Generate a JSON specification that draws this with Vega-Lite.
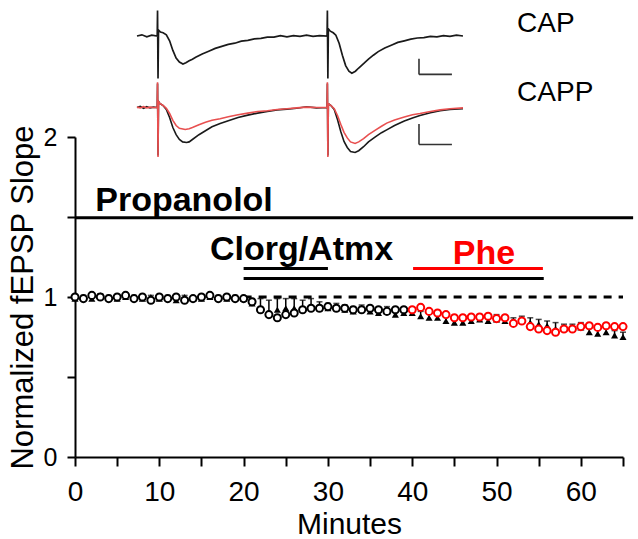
{
  "$schema": "https://vega.github.io/schema/vega-lite/v6.json",
  "width": 548,
  "height": 320,
  "autosize": {"type": "none"},
  "padding": {"left": 75, "top": 137, "right": 15, "bottom": 82},
  "config": {
    "view": {"stroke": null},
    "font": "Liberation Sans",
    "axis": {"grid": false, "domainColor": "black", "tickColor": "black", "labelColor": "black", "titleColor": "black", "labelFont": "Liberation Sans", "titleFont": "Liberation Sans"}
  },
  "datasets": {
    "cap": [
      {"t":0,"v":0.99,"hi":1.0},{"t":1,"v":1.0,"hi":1.01},{"t":2,"v":0.99,"hi":1.0},{"t":3,"v":1.01,"hi":1.02},{"t":4,"v":1.0,"hi":1.01},{"t":5,"v":0.99,"hi":1.0},{"t":6,"v":1.0,"hi":1.01},{"t":7,"v":1.0,"hi":1.01},{"t":8,"v":0.99,"hi":1.0},{"t":9,"v":1.0,"hi":1.01},{"t":10,"v":0.99,"hi":1.0},{"t":11,"v":1.0,"hi":1.01},{"t":12,"v":0.98,"hi":0.99},{"t":13,"v":1.0,"hi":1.01},{"t":14,"v":0.99,"hi":1.0},{"t":15,"v":0.99,"hi":1.0},{"t":16,"v":1.0,"hi":1.01},{"t":17,"v":1.0,"hi":1.01},{"t":18,"v":0.99,"hi":1.0},{"t":19,"v":1.0,"hi":1.01},{"t":20,"v":0.99,"hi":1.0},
      {"t":21,"v":0.96,"hi":0.99},{"t":22,"v":0.92,"hi":0.99},{"t":23,"v":0.9,"hi":0.98},{"t":24,"v":0.92,"hi":0.99},{"t":25,"v":0.93,"hi":0.99},{"t":26,"v":0.93,"hi":0.99},{"t":27,"v":0.93,"hi":0.98},{"t":28,"v":0.94,"hi":0.99},{"t":29,"v":0.93,"hi":0.97},{"t":30,"v":0.93,"hi":0.96},
      {"t":31,"v":0.93,"hi":0.96},{"t":32,"v":0.92,"hi":0.95},{"t":33,"v":0.91,"hi":0.94},{"t":34,"v":0.92,"hi":0.95},{"t":35,"v":0.91,"hi":0.94},{"t":36,"v":0.9,"hi":0.93},{"t":37,"v":0.91,"hi":0.94},{"t":38,"v":0.89,"hi":0.92},{"t":39,"v":0.9,"hi":0.93},{"t":40,"v":0.9,"hi":0.93},
      {"t":41,"v":0.88,"hi":0.91},{"t":42,"v":0.87,"hi":0.9},{"t":43,"v":0.87,"hi":0.9},{"t":44,"v":0.85,"hi":0.88},{"t":45,"v":0.84,"hi":0.87},{"t":46,"v":0.84,"hi":0.87},{"t":47,"v":0.85,"hi":0.88},{"t":48,"v":0.86,"hi":0.89},{"t":49,"v":0.85,"hi":0.88},{"t":50,"v":0.86,"hi":0.89},
      {"t":51,"v":0.85,"hi":0.88},{"t":52,"v":0.84,"hi":0.87},{"t":53,"v":0.85,"hi":0.88},{"t":54,"v":0.84,"hi":0.87},{"t":55,"v":0.83,"hi":0.86},{"t":56,"v":0.82,"hi":0.85},{"t":57,"v":0.8,"hi":0.84},{"t":58,"v":0.8,"hi":0.83},{"t":59,"v":0.8,"hi":0.83},{"t":60,"v":0.81,"hi":0.84},
      {"t":61,"v":0.78,"hi":0.81},{"t":62,"v":0.77,"hi":0.8},{"t":63,"v":0.78,"hi":0.81},{"t":64,"v":0.76,"hi":0.79},{"t":65,"v":0.75,"hi":0.78}
    ],
    "capp": [
      {"t":0,"v":1.0,"ph":"ctrl"},{"t":1,"v":0.99,"ph":"ctrl"},{"t":2,"v":1.01,"ph":"ctrl"},{"t":3,"v":1.0,"ph":"ctrl"},{"t":4,"v":0.99,"ph":"ctrl"},{"t":5,"v":1.0,"ph":"ctrl"},{"t":6,"v":1.01,"ph":"ctrl"},{"t":7,"v":0.99,"ph":"ctrl"},{"t":8,"v":1.0,"ph":"ctrl"},{"t":9,"v":0.98,"ph":"ctrl"},{"t":10,"v":1.0,"ph":"ctrl"},
      {"t":11,"v":0.99,"ph":"ctrl"},{"t":12,"v":1.0,"ph":"ctrl"},{"t":13,"v":0.98,"ph":"ctrl"},{"t":14,"v":0.99,"ph":"ctrl"},{"t":15,"v":1.0,"ph":"ctrl"},{"t":16,"v":1.01,"ph":"ctrl"},{"t":17,"v":0.99,"ph":"ctrl"},{"t":18,"v":1.0,"ph":"ctrl"},{"t":19,"v":0.99,"ph":"ctrl"},{"t":20,"v":0.99,"ph":"ctrl"},
      {"t":21,"v":0.97,"ph":"ctrl"},{"t":22,"v":0.92,"ph":"ctrl"},{"t":23,"v":0.89,"ph":"ctrl"},{"t":24,"v":0.87,"ph":"ctrl"},{"t":25,"v":0.89,"ph":"ctrl"},{"t":26,"v":0.9,"ph":"ctrl"},{"t":27,"v":0.92,"ph":"ctrl"},{"t":28,"v":0.93,"ph":"ctrl"},{"t":29,"v":0.93,"ph":"ctrl"},{"t":30,"v":0.94,"ph":"ctrl"},
      {"t":31,"v":0.93,"ph":"ctrl"},{"t":32,"v":0.93,"ph":"ctrl"},{"t":33,"v":0.92,"ph":"ctrl"},{"t":34,"v":0.92,"ph":"ctrl"},{"t":35,"v":0.93,"ph":"ctrl"},{"t":36,"v":0.92,"ph":"ctrl"},{"t":37,"v":0.91,"ph":"ctrl"},{"t":38,"v":0.92,"ph":"ctrl"},{"t":39,"v":0.92,"ph":"ctrl"},
      {"t":40,"v":0.92,"ph":"phe"},{"t":41,"v":0.935,"ph":"phe"},{"t":42,"v":0.91,"ph":"phe"},{"t":43,"v":0.9,"ph":"phe"},{"t":44,"v":0.89,"ph":"phe"},{"t":45,"v":0.87,"ph":"phe"},{"t":46,"v":0.87,"ph":"phe"},{"t":47,"v":0.875,"ph":"phe"},{"t":48,"v":0.875,"ph":"phe"},{"t":49,"v":0.88,"ph":"phe"},{"t":50,"v":0.865,"ph":"phe"},
      {"t":51,"v":0.87,"ph":"phe"},{"t":52,"v":0.835,"ph":"phe"},{"t":53,"v":0.85,"ph":"phe"},{"t":54,"v":0.815,"ph":"phe"},{"t":55,"v":0.8,"ph":"phe"},{"t":56,"v":0.79,"ph":"phe"},{"t":57,"v":0.78,"ph":"phe"},{"t":58,"v":0.8,"ph":"phe"},{"t":59,"v":0.8,"ph":"phe"},{"t":60,"v":0.815,"ph":"phe"},
      {"t":61,"v":0.82,"ph":"phe"},{"t":62,"v":0.81,"ph":"phe"},{"t":63,"v":0.82,"ph":"phe"},{"t":64,"v":0.815,"ph":"phe"},{"t":65,"v":0.815,"ph":"phe"}
    ],
    "bars": [
      {"name":"Propanolol","t":0,"t2":66.2,"v":1.495,"c":"k"},
      {"name":"Clorg","t":20,"t2":30,"v":1.178,"c":"k"},
      {"name":"Atmx","t":20,"t2":55.6,"v":1.115,"c":"k"},
      {"name":"Phe","t":40.1,"t2":55.5,"v":1.178,"c":"r"}
    ],
    "trCAP": [
      {"t":0,"v":0},{"t":1.5,"v":0.03},{"t":3,"v":-0.02},{"t":4.5,"v":0.02},{"t":6.2,"v":0},{"t":6.3,"v":0.64},{"t":6.45,"v":-1.06},{"t":6.6,"v":0.15},{"t":7.2,"v":0.1},{"t":8,"v":0.08},{"t":9,"v":0.03},{"t":10,"v":-0.12},{"t":11,"v":-0.36},{"t":12,"v":-0.55},{"t":13,"v":-0.65},{"t":14.1,"v":-0.7},{"t":15,"v":-0.67},{"t":16,"v":-0.62},{"t":17,"v":-0.58},{"t":18,"v":-0.53},{"t":20,"v":-0.45},{"t":22,"v":-0.38},{"t":24,"v":-0.31},{"t":26,"v":-0.26},{"t":28,"v":-0.21},{"t":30,"v":-0.18},{"t":32,"v":-0.13},{"t":34,"v":-0.11},{"t":36,"v":-0.07},{"t":38,"v":-0.06},{"t":40,"v":-0.03},{"t":42,"v":-0.03},{"t":44,"v":0.01},{"t":46,"v":-0.02},{"t":48,"v":0.01},{"t":50,"v":-0.01},{"t":52,"v":0.02},{"t":54,"v":-0.01},{"t":56,"v":0.01},
      {"t":58.3,"v":0},{"t":58.4,"v":0.64},{"t":58.55,"v":-1.06},{"t":58.7,"v":0.18},{"t":59.3,"v":0.12},{"t":60.2,"v":0.08},{"t":61,"v":0.02},{"t":62,"v":-0.18},{"t":63,"v":-0.48},{"t":64,"v":-0.74},{"t":65,"v":-0.88},{"t":65.9,"v":-0.93},{"t":67,"v":-0.88},{"t":68,"v":-0.8},{"t":69.5,"v":-0.69},{"t":71,"v":-0.58},{"t":72.5,"v":-0.48},{"t":74,"v":-0.39},{"t":76,"v":-0.3},{"t":78,"v":-0.23},{"t":80,"v":-0.16},{"t":82,"v":-0.12},{"t":84,"v":-0.08},{"t":86,"v":-0.05},{"t":88,"v":-0.04},{"t":90,"v":-0.01},{"t":92,"v":-0.02},{"t":94,"v":0.01},{"t":96,"v":-0.01},{"t":98,"v":0.02},{"t":100,"v":0}
    ],
    "trCAPP": [
      {"s":"black","t":0,"v":0},{"s":"black","t":1,"v":0.03},{"s":"black","t":2,"v":-0.02},{"s":"black","t":3,"v":0.02},{"s":"black","t":4,"v":-0.01},{"s":"black","t":5,"v":0.01},{"s":"black","t":6.2,"v":0},{"s":"black","t":6.3,"v":0.6},{"s":"black","t":6.45,"v":-1.2},{"s":"black","t":6.6,"v":0.15},{"s":"black","t":7,"v":0.1},{"s":"black","t":8,"v":0.05},{"s":"black","t":9,"v":-0.05},{"s":"black","t":10,"v":-0.25},{"s":"black","t":11,"v":-0.5},{"s":"black","t":12,"v":-0.68},{"s":"black","t":13,"v":-0.8},{"s":"black","t":14,"v":-0.86},{"s":"black","t":15.2,"v":-0.875},{"s":"black","t":16,"v":-0.86},{"s":"black","t":17,"v":-0.8},{"s":"black","t":19,"v":-0.68},{"s":"black","t":21,"v":-0.58},{"s":"black","t":23,"v":-0.48},{"s":"black","t":25.5,"v":-0.4},{"s":"black","t":28,"v":-0.33},{"s":"black","t":31,"v":-0.25},{"s":"black","t":34,"v":-0.19},{"s":"black","t":37,"v":-0.14},{"s":"black","t":40,"v":-0.1},{"s":"black","t":43,"v":-0.06},{"s":"black","t":46,"v":-0.04},{"s":"black","t":49,"v":-0.02},{"s":"black","t":52,"v":0.02},{"s":"black","t":55,"v":-0.01},
      {"s":"black","t":58.3,"v":0},{"s":"black","t":58.4,"v":0.6},{"s":"black","t":58.55,"v":-1.2},{"s":"black","t":58.7,"v":0.1},{"s":"black","t":59.5,"v":0.05},{"s":"black","t":60.5,"v":-0.05},{"s":"black","t":61.5,"v":-0.3},{"s":"black","t":62.5,"v":-0.6},{"s":"black","t":63.5,"v":-0.85},{"s":"black","t":64.5,"v":-1.0},{"s":"black","t":65.5,"v":-1.1},{"s":"black","t":66.9,"v":-1.125},{"s":"black","t":68,"v":-1.08},{"s":"black","t":69.5,"v":-0.98},{"s":"black","t":71,"v":-0.86},{"s":"black","t":73,"v":-0.74},{"s":"black","t":75,"v":-0.63},{"s":"black","t":76.6,"v":-0.56},{"s":"black","t":79,"v":-0.45},{"s":"black","t":82,"v":-0.34},{"s":"black","t":84.5,"v":-0.26},{"s":"black","t":86.8,"v":-0.2},{"s":"black","t":90,"v":-0.13},{"s":"black","t":93,"v":-0.08},{"s":"black","t":96,"v":-0.05},{"s":"black","t":100,"v":-0.03},
      {"s":"red","t":0,"v":0.01},{"s":"red","t":1,"v":-0.01},{"s":"red","t":2,"v":0.02},{"s":"red","t":3,"v":-0.01},{"s":"red","t":4,"v":0.01},{"s":"red","t":5,"v":0},{"s":"red","t":6.2,"v":0},{"s":"red","t":6.3,"v":0.63},{"s":"red","t":6.45,"v":-1.24},{"s":"red","t":6.6,"v":0.15},{"s":"red","t":7,"v":0.1},{"s":"red","t":8,"v":0.05},{"s":"red","t":9,"v":-0.02},{"s":"red","t":10,"v":-0.15},{"s":"red","t":11,"v":-0.32},{"s":"red","t":12,"v":-0.45},{"s":"red","t":13,"v":-0.52},{"s":"red","t":14.8,"v":-0.55},{"s":"red","t":16,"v":-0.53},{"s":"red","t":17,"v":-0.5},{"s":"red","t":19,"v":-0.43},{"s":"red","t":21,"v":-0.37},{"s":"red","t":23,"v":-0.32},{"s":"red","t":25.5,"v":-0.28},{"s":"red","t":28,"v":-0.23},{"s":"red","t":31,"v":-0.18},{"s":"red","t":34,"v":-0.14},{"s":"red","t":37,"v":-0.1},{"s":"red","t":40,"v":-0.08},{"s":"red","t":43,"v":-0.05},{"s":"red","t":46,"v":-0.03},{"s":"red","t":49,"v":-0.01},{"s":"red","t":52,"v":0.01},{"s":"red","t":55,"v":0},
      {"s":"red","t":58.3,"v":0},{"s":"red","t":58.4,"v":0.63},{"s":"red","t":58.55,"v":-1.24},{"s":"red","t":58.7,"v":0.1},{"s":"red","t":59.5,"v":0.05},{"s":"red","t":60.5,"v":-0.03},{"s":"red","t":61.5,"v":-0.2},{"s":"red","t":62.5,"v":-0.42},{"s":"red","t":63.5,"v":-0.62},{"s":"red","t":64.5,"v":-0.76},{"s":"red","t":65.5,"v":-0.86},{"s":"red","t":66.9,"v":-0.9},{"s":"red","t":68,"v":-0.86},{"s":"red","t":69.5,"v":-0.78},{"s":"red","t":71,"v":-0.68},{"s":"red","t":73,"v":-0.57},{"s":"red","t":75,"v":-0.47},{"s":"red","t":76.6,"v":-0.39},{"s":"red","t":79,"v":-0.31},{"s":"red","t":82,"v":-0.24},{"s":"red","t":84.5,"v":-0.18},{"s":"red","t":86.8,"v":-0.15},{"s":"red","t":90,"v":-0.1},{"s":"red","t":93,"v":-0.06},{"s":"red","t":96,"v":-0.03},{"s":"red","t":100,"v":-0.01}
    ],
    "scaleCAP": [
      {"t":86.5,"t2":86.5,"v":-0.57,"v2":-0.96},
      {"t":86.5,"t2":96.6,"v":-0.96,"v2":-0.96}
    ],
    "scaleCAPP": [
      {"t":86.5,"t2":86.5,"v":-0.41,"v2":-0.925},
      {"t":86.5,"t2":96.6,"v":-0.925,"v2":-0.925}
    ],
    "labCAP": [{"label":"CAP","t":116.6,"v":0.31}],
    "labCAPP": [{"label":"CAPP","t":116.6,"v":0.375}],
    "labels": [
      {"label":"Propanolol","t":2.4,"v":1.539,"c":"k"},
      {"label":"Clorg/Atmx","t":16.0,"v":1.234,"c":"k"},
      {"label":"Phe","t":44.8,"v":1.209,"c":"r"}
    ]
  },
  "layer": [
    {
      "layer": [
        {
          "data": {"name": "bars"},
          "mark": {"type": "rule", "strokeWidth": 3},
          "encoding": {
            "x": {"field": "t", "type": "quantitative", "title": "Minutes",
              "scale": {"domain": [0, 65], "nice": false, "zero": false},
              "axis": {"values": [0,5,10,15,20,25,30,35,40,45,50,55,60,65], "labelExpr": "datum.value % 10 === 0 ? '' + datum.value : ''", "labelFontSize": 28, "labelPadding": 12, "tickSize": 9, "tickWidth": 2, "domainWidth": 2, "titleFontSize": 30, "titleFontWeight": "normal", "titlePadding": 3, "labelFlush": false, "labelOverlap": false}},
            "x2": {"field": "t2"},
            "y": {"field": "v", "type": "quantitative", "title": "Normalized fEPSP Slope",
              "scale": {"domain": [0, 2], "nice": false, "zero": false},
              "axis": {"values": [0,0.25,0.5,0.75,1,1.25,1.5,1.75,2], "labelExpr": "datum.value % 1 === 0 ? '' + datum.value : ''", "labelFontSize": 25, "labelPadding": 10, "tickSize": 8, "tickWidth": 2, "domainWidth": 2, "titleFontSize": 31, "titleFontWeight": "normal", "titlePadding": 4, "labelFlush": false, "labelOverlap": false}},
            "color": {"field": "c", "type": "nominal", "scale": {"domain": ["k", "r"], "range": ["#000000", "#ff0000"]}, "legend": null}
          }
        },
        {
          "data": {"values": [{"t": 20, "t2": 65, "v": 1.0}]},
          "mark": {"type": "rule", "strokeWidth": 2.8, "strokeDash": [8, 7], "color": "black"},
          "encoding": {
            "x": {"field": "t", "type": "quantitative", "title": "Minutes"},
            "x2": {"field": "t2"},
            "y": {"field": "v", "type": "quantitative", "title": "Normalized fEPSP Slope"}
          }
        },
        {
          "data": {"name": "cap"},
          "mark": {"type": "rule", "strokeWidth": 1.5, "color": "black"},
          "encoding": {
            "x": {"field": "t", "type": "quantitative", "title": "Minutes"},
            "y": {"field": "v", "type": "quantitative", "title": "Normalized fEPSP Slope"},
            "y2": {"field": "hi"}
          }
        },
        {
          "data": {"name": "cap"},
          "mark": {"type": "tick", "orient": "horizontal", "size": 6, "thickness": 1.5, "color": "black"},
          "encoding": {
            "x": {"field": "t", "type": "quantitative", "title": "Minutes"},
            "y": {"field": "hi", "type": "quantitative", "title": "Normalized fEPSP Slope"}
          }
        },
        {
          "data": {"name": "cap"},
          "mark": {"type": "point", "shape": "triangle-up", "filled": true, "size": 50, "color": "black", "opacity": 1},
          "encoding": {
            "x": {"field": "t", "type": "quantitative", "title": "Minutes"},
            "y": {"field": "v", "type": "quantitative", "title": "Normalized fEPSP Slope"}
          }
        },
        {
          "data": {"name": "capp"},
          "mark": {"type": "point", "shape": "circle", "filled": false, "fill": "white", "fillOpacity": 1, "size": 50, "strokeWidth": 2, "opacity": 1},
          "encoding": {
            "x": {"field": "t", "type": "quantitative", "title": "Minutes"},
            "y": {"field": "v", "type": "quantitative", "title": "Normalized fEPSP Slope"},
            "stroke": {"field": "ph", "type": "nominal", "scale": {"domain": ["ctrl", "phe"], "range": ["#000000", "#ff0000"]}, "legend": null}
          }
        },
        {
          "data": {"name": "labels"},
          "mark": {"type": "text", "align": "left", "baseline": "alphabetic", "fontSize": 34, "fontWeight": "bold", "font": "Liberation Sans"},
          "encoding": {
            "x": {"field": "t", "type": "quantitative", "title": "Minutes"},
            "y": {"field": "v", "type": "quantitative", "title": "Normalized fEPSP Slope"},
            "text": {"field": "label"},
            "color": {"field": "c", "type": "nominal", "scale": {"domain": ["k", "r"], "range": ["#000000", "#ff0000"]}, "legend": null}
          }
        }
      ]
    },
    {
      "layer": [
        {
          "data": {"name": "trCAP"},
          "mark": {"type": "line", "strokeWidth": 1.7, "color": "#1a1a1a", "interpolate": "linear"},
          "encoding": {
            "x": {"field": "t", "type": "quantitative", "scale": {"domain": [0, 100], "range": [62, 388], "nice": false, "zero": false}, "axis": null},
            "y": {"field": "v", "type": "quantitative", "scale": {"domain": [-1, 0], "range": [-61, -101], "nice": false, "zero": false}, "axis": null}
          }
        },
        {
          "data": {"name": "scaleCAP"},
          "mark": {"type": "rule", "strokeWidth": 1.6, "color": "#333333"},
          "encoding": {
            "x": {"field": "t", "type": "quantitative", "axis": null},
            "x2": {"field": "t2"},
            "y": {"field": "v", "type": "quantitative", "axis": null},
            "y2": {"field": "v2"}
          }
        },
        {
          "data": {"name": "labCAP"},
          "mark": {"type": "text", "align": "left", "baseline": "middle", "fontSize": 28, "font": "Liberation Sans", "color": "black"},
          "encoding": {
            "x": {"field": "t", "type": "quantitative", "axis": null},
            "y": {"field": "v", "type": "quantitative", "axis": null},
            "text": {"field": "label"}
          }
        }
      ]
    },
    {
      "layer": [
        {
          "data": {"name": "trCAPP"},
          "mark": {"type": "line", "strokeWidth": 1.6, "interpolate": "linear"},
          "encoding": {
            "x": {"field": "t", "type": "quantitative", "scale": {"domain": [0, 100], "range": [62, 388], "nice": false, "zero": false}, "axis": null},
            "y": {"field": "v", "type": "quantitative", "scale": {"domain": [-1, 0], "range": [10.5, -29.5], "nice": false, "zero": false}, "axis": null},
            "color": {"field": "s", "type": "nominal", "scale": {"domain": ["black", "red"], "range": ["#1a1a1a", "#e85050"]}, "legend": null}
          }
        },
        {
          "data": {"name": "scaleCAPP"},
          "mark": {"type": "rule", "strokeWidth": 1.6, "color": "#333333"},
          "encoding": {
            "x": {"field": "t", "type": "quantitative", "axis": null},
            "x2": {"field": "t2"},
            "y": {"field": "v", "type": "quantitative", "axis": null},
            "y2": {"field": "v2"}
          }
        },
        {
          "data": {"name": "labCAPP"},
          "mark": {"type": "text", "align": "left", "baseline": "middle", "fontSize": 28, "font": "Liberation Sans", "color": "black"},
          "encoding": {
            "x": {"field": "t", "type": "quantitative", "axis": null},
            "y": {"field": "v", "type": "quantitative", "axis": null},
            "text": {"field": "label"}
          }
        }
      ]
    }
  ],
  "resolve": {"scale": {"x": "independent", "y": "independent", "color": "independent"}}
}
